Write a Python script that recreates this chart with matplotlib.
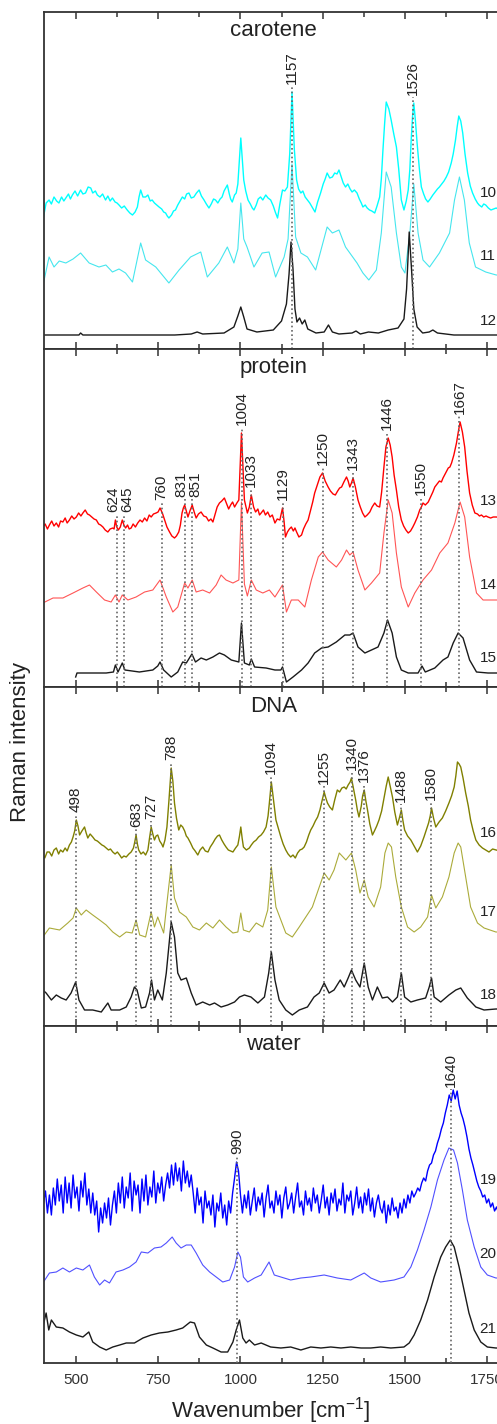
import numpy as np
import matplotlib.pyplot as plt

plt.rcParams['font.family'] = ['Liberation Sans', 'DejaVu Sans']
plt.rcParams['mathtext.fontset'] = 'custom'
plt.rcParams['mathtext.rm'] = 'Liberation Sans'

# spectra as (wavenumber, intensity) pairs, arbitrary units
# ---- carotene ----
s10 = [(400,132),(408,146),(417,149),(424,145),(432,152),(440,148),(447,146),(455,152),(462,148),(468,151),
       (476,155),(482,150),(488,154),(496,158),(504,153),(513,159),(520,155),(528,156),(536,162),(544,161),
       (550,156),(558,158),(564,154),(572,152),(580,155),(589,149),(596,153),(603,148),(610,151),(618,147),
       (624,146),(630,144),(638,141),(646,143),(655,139),(663,136),(671,134),(679,137),(686,142),(691,152),
       (696,159),(703,152),(711,152),(718,154),(725,148),(731,149),(738,146),(745,144),(752,142),(760,140),
       (766,137),(772,136),(777,133),(782,131),(790,134),(796,138),(802,139),(809,144),(816,148),(823,152),
       (830,150),(836,155),(843,156),(850,151),(858,152),(866,156),(874,159),(881,153),(889,149),(896,145),
       (904,141),(911,145),(918,150),(924,149),(931,146),(938,150),(944,152),(950,158),(955,161),(960,164),
       (966,155),(970,150),(975,147),(982,154),(987,156),(992,165),(1001,211),(1010,169),(1016,158),(1023,149),
       (1030,145),(1036,141),(1041,139),(1048,144),(1054,150),(1061,152),(1068,149),(1077,154),(1084,151),(1092,149),
       (1100,143),(1106,137),(1113,131),(1120,145),(1128,159),(1135,158),(1143,162),(1150,195),(1157,257),(1164,200),
       (1171,169),(1177,160),(1184,156),(1190,158),(1197,152),(1204,149),(1211,146),(1218,142),(1227,137),(1235,147),
       (1244,156),(1252,165),(1258,170),(1264,176),(1272,171),(1280,172),(1287,176),(1294,175),(1300,179),(1307,172),
       (1313,166),(1320,162),(1327,165),(1334,160),(1340,157),(1347,159),(1355,156),(1362,150),(1368,146),(1373,142),
       (1380,144),(1386,141),(1393,139),(1400,138),(1409,136),(1416,143),(1424,152),(1429,170),(1434,199),(1439,225),
       (1444,247),(1452,240),(1459,229),(1467,215),(1475,202),(1482,180),(1490,149),(1498,139),(1505,148),(1511,159),
       (1516,180),(1520,209),(1524,232),(1528,246),(1533,228),(1538,206),(1545,180),(1551,162),(1558,155),(1564,150),
       (1571,147),(1578,150),(1586,154),(1593,157),(1600,160),(1606,162),(1613,165),(1620,168),(1627,172),(1634,177),
       (1642,186),(1648,195),(1655,209),(1660,222),(1665,233),(1671,228),(1677,216),(1684,195),(1692,176),(1700,163),
       (1707,156),(1715,150),(1722,146),(1727,144),(1735,142),(1741,145),(1747,144),(1755,141),(1763,139),(1771,140),
       (1779,141),(1790,139),(1800,140)]
s11 = [(400,66),(417,92),(432,82),(448,88),(468,86),(490,90),(513,96),(539,86),(569,82),(590,84),
       (610,77),(630,80),(650,76),(671,67),(696,106),(711,89),(742,82),(767,72),(782,66),(813,79),
       (848,92),(879,97),(899,72),(934,86),(960,102),(980,86),(992,100),(1001,146),(1010,110),(1020,102),
       (1041,82),(1066,96),(1087,97),(1107,72),(1133,92),(1145,110),(1157,185),(1168,112),(1184,96),(1204,92),
       (1229,79),(1264,122),(1280,116),(1300,119),(1320,102),(1355,86),(1373,76),(1391,69),(1414,79),(1429,116),
       (1444,177),(1459,162),(1475,116),(1490,82),(1501,76),(1516,116),(1528,165),(1541,116),(1556,89),(1576,82),
       (1606,96),(1637,116),(1652,149),(1667,172),(1682,149),(1697,106),(1716,82),(1747,77),(1779,74),(1800,74)]
s12 = [(400,14),(460,14),(508,14),(513,16),(520,14),(600,14),(700,14),(800,14),(850,15),(868,17),
       (885,15),(950,16),(980,22),(992,33),(1001,42),(1010,32),(1020,20),(1050,17),(1100,19),(1125,28),
       (1140,45),(1148,75),(1154,107),(1160,80),(1166,40),(1172,27),(1180,31),(1188,25),(1196,29),(1205,20),
       (1230,16),(1255,17),(1268,24),(1280,17),(1300,15),(1340,16),(1352,18),(1365,15),(1390,17),(1420,16),
       (1450,19),(1480,21),(1498,30),(1506,60),(1514,117),(1521,80),(1528,40),(1538,22),(1555,16),(1575,17),
       (1586,19),(1600,16),(1650,14),(1800,14)]

# ---- protein ----
s13 = [(398,160),(405,163),(412,158),(418,162),(425,166),(432,161),(439,164),(446,160),(452,166),(459,165),
       (466,169),(472,164),(479,167),(486,171),(493,168),(500,170),(507,174),(514,171),(520,174),(527,177),
       (534,173),(540,172),(547,170),(554,168),(561,167),(568,163),(574,162),(581,160),(588,157),(596,155),
       (603,158),(611,159),(615,158),(619,167),(623,160),(628,157),(634,160),(640,167),(645,162),(650,159),
       (656,162),(661,158),(667,159),(673,163),(680,160),(687,164),(694,167),(701,165),(708,169),(715,166),
       (722,172),(728,170),(735,173),(743,174),(749,175),(755,179),(762,174),(769,167),(776,160),(784,155),
       (791,151),(799,149),(805,151),(812,155),(817,162),(822,174),(826,179),(830,182),(835,176),(840,170),
       (846,176),(853,182),(859,175),(865,169),(872,173),(880,175),(888,171),(896,170),(903,166),(910,168),
       (916,165),(922,172),(929,180),(936,184),(943,186),(951,189),(958,183),(964,178),(970,182),(976,185),
       (982,180),(989,184),(995,187),(1003,254),(1012,187),(1021,174),(1027,180),(1033,192),(1040,180),(1046,175),
       (1053,178),(1058,172),(1063,174),(1070,177),(1076,172),(1083,175),(1090,170),(1097,172),(1105,164),(1112,168),
       (1120,167),(1128,179),(1133,165),(1137,150),(1143,155),(1149,158),(1155,160),(1161,156),(1166,159),(1171,155),
       (1178,150),(1186,152),(1192,158),(1199,163),(1206,167),(1213,176),(1220,185),(1226,194),(1234,202),(1242,210),
       (1250,214),(1258,206),(1267,200),(1274,196),(1282,193),(1289,192),(1296,196),(1302,199),(1308,200),(1315,205),
       (1323,210),(1328,206),(1333,200),(1338,204),(1343,209),(1350,200),(1358,187),(1365,180),(1372,174),(1379,170),
       (1386,172),(1394,175),(1401,180),(1409,184),(1416,181),(1424,180),(1430,195),(1437,220),(1443,240),(1450,249),
       (1456,242),(1462,230),(1468,212),(1475,197),(1482,180),(1490,167),(1497,161),(1504,157),(1511,154),(1518,156),
       (1525,160),(1531,164),(1539,170),(1546,177),(1551,180),(1556,184),(1563,182),(1572,185),(1579,190),(1586,195),
       (1592,200),(1599,203),(1606,206),(1612,205),(1617,209),(1625,214),(1633,219),(1638,220),(1643,224),(1650,232),
       (1658,244),(1664,256),(1669,265),(1676,255),(1683,240),(1690,216),(1698,194),(1706,182),(1714,174),(1722,173),
       (1728,171),(1734,172),(1741,170),(1748,171),(1754,170),(1762,169),(1770,170),(1780,170),(1790,169),(1800,170)]
s14 = [(398,84),(429,89),(459,89),(490,94),(520,99),(540,102),(561,95),(586,87),(606,85),(619,92),
       (630,85),(640,92),(657,87),(682,90),(708,95),(733,97),(755,107),(774,90),(794,75),(809,80),
       (830,104),(840,99),(853,107),(865,95),(885,97),(906,94),(926,102),(941,112),(956,107),(977,104),
       (995,107),(1003,185),(1012,103),(1021,91),(1033,107),(1048,97),(1068,94),(1088,97),(1105,90),(1128,102),
       (1140,75),(1155,87),(1176,87),(1196,80),(1216,107),(1237,130),(1250,135),(1267,127),(1292,120),(1308,127),
       (1323,137),(1333,132),(1343,135),(1358,117),(1379,97),(1399,104),(1424,114),(1437,154),(1450,187),(1462,174),
       (1475,134),(1490,100),(1511,80),(1531,94),(1556,107),(1582,117),(1607,134),(1632,144),(1653,164),(1669,185),
       (1683,170),(1698,130),(1719,94),(1739,87),(1780,87),(1800,87)]
s15 = [(498,10),(502,14),(540,14),(591,14),(613,15),(619,22),(627,15),(640,24),(648,17),(692,15),
       (733,17),(748,21),(755,25),(766,17),(789,10),(809,15),(824,25),(835,24),(852,33),(863,25),
       (880,29),(896,27),(916,30),(936,34),(951,32),(972,27),(995,25),(1003,64),(1012,24),(1027,22),
       (1033,28),(1043,20),(1078,19),(1105,17),(1123,17),(1128,20),(1140,5),(1160,10),(1186,17),(1206,24),
       (1226,34),(1247,39),(1267,40),(1292,45),(1318,52),(1333,52),(1343,54),(1358,40),(1379,34),(1399,37),
       (1419,40),(1437,54),(1448,67),(1462,54),(1475,30),(1490,17),(1511,14),(1541,14),(1553,21),(1563,15),
       (1592,19),(1617,27),(1632,30),(1648,44),(1663,54),(1678,49),(1698,27),(1719,15),(1754,14),(1800,14)]

# ---- DNA ----
s16 = [(398,171),(404,168),(411,174),(418,174),(425,170),(432,176),(439,178),(446,172),(452,176),(459,174),
       (466,178),(472,175),(479,181),(485,184),(490,189),(495,195),(500,206),(505,200),(510,191),(517,195),
       (525,199),(530,193),(535,188),(542,192),(550,189),(557,186),(564,185),(571,183),(578,181),(584,180),
       (591,178),(598,176),(604,177),(611,174),(618,172),(625,174),(632,171),(638,168),(645,170),(652,169),
       (660,172),(667,174),(674,178),(678,184),(682,191),(686,182),(690,176),(697,172),(704,174),(711,171),
       (718,176),(723,188),(728,199),(733,192),(738,186),(743,190),(748,191),(754,185),(760,182),(764,179),
       (770,186),(776,199),(782,225),(789,258),(794,245),(799,223),(805,208),(812,196),(818,201),(824,199),
       (830,195),(835,190),(840,188),(848,183),(855,178),(862,175),(870,171),(877,176),(885,179),(893,175),
       (901,174),(908,179),(916,183),(923,187),(930,190),(936,191),(943,186),(950,182),(956,179),(963,176),
       (970,175),(977,174),(985,178),(992,181),(997,190),(1001,199),(1005,188),(1009,179),(1018,176),(1027,178),
       (1033,181),(1040,184),(1048,186),(1055,189),(1063,191),(1070,194),(1078,199),(1084,210),(1088,223),(1094,244),
       (1101,225),(1108,206),(1115,198),(1123,189),(1130,182),(1138,176),(1145,172),(1153,169),(1160,171),(1167,168),
       (1174,173),(1181,176),(1188,177),(1194,179),(1201,184),(1208,191),(1214,196),(1221,200),(1228,205),(1235,209),
       (1242,216),(1249,226),(1255,234),(1260,228),(1265,223),(1272,219),(1280,216),(1287,226),(1295,236),(1302,234),
       (1309,238),(1316,239),(1322,237),(1328,241),(1334,244),(1338,248),(1344,238),(1351,226),(1356,216),(1361,209),
       (1368,220),(1372,230),(1377,236),(1382,225),(1387,216),(1394,202),(1402,191),(1408,195),(1415,200),(1422,206),
       (1430,215),(1438,229),(1444,240),(1450,249),(1456,240),(1463,229),(1470,214),(1478,201),(1484,208),(1490,216),
       (1495,205),(1500,196),(1509,190),(1519,186),(1529,180),(1539,174),(1549,180),(1559,189),(1566,196),(1573,203),
       (1578,210),(1582,218),(1588,208),(1595,199),(1605,204),(1615,208),(1625,215),(1635,223),(1643,230),(1651,239),
       (1656,250),(1661,264),(1666,262),(1671,259),(1678,248),(1686,233),(1694,220),(1701,206),(1709,195),(1717,186),
       (1727,181),(1737,178),(1747,176),(1757,174),(1768,177),(1778,176),(1790,175),(1800,176)]
s17 = [(398,89),(418,98),(449,96),(474,103),(490,108),(500,118),(515,111),(530,116),(550,111),(571,106),
       (591,101),(611,94),(632,89),(652,94),(670,93),(682,106),(693,91),(711,89),(728,114),(738,99),
       (748,109),(766,93),(777,126),(789,161),(799,128),(814,114),(835,109),(855,99),(875,96),(896,103),
       (916,98),(936,106),(956,99),(977,93),(992,94),(1001,113),(1009,96),(1027,94),(1048,103),(1068,99),
       (1083,116),(1094,159),(1108,119),(1123,106),(1138,93),(1158,89),(1179,99),(1199,109),(1219,119),(1240,139),
       (1255,153),(1270,146),(1285,156),(1301,173),(1321,166),(1338,173),(1351,156),(1364,133),(1377,146),(1389,129),
       (1407,119),(1427,139),(1440,173),(1450,183),(1460,179),(1473,149),(1490,119),(1509,99),(1529,94),(1549,99),
       (1570,109),(1582,131),(1595,118),(1615,129),(1635,149),(1651,173),(1663,183),(1671,179),(1686,149),(1701,119),
       (1722,103),(1742,98),(1778,94),(1800,94)]
s18 = [(398,36),(408,33),(424,26),(439,31),(454,28),(469,26),(484,33),(498,44),(508,26),(525,16),
       (550,16),(576,14),(596,23),(606,16),(632,16),(652,19),(667,29),(677,39),(685,36),(698,18),
       (711,19),(723,33),(729,46),(738,26),(748,36),(762,26),(774,53),(789,104),(799,89),(809,53),
       (819,46),(835,48),(850,33),(865,21),(885,24),(906,21),(921,23),(941,19),(961,21),(982,24),
       (997,29),(1012,31),(1032,29),(1053,23),(1073,29),(1086,53),(1094,74),(1105,46),(1118,26),(1138,16),
       (1158,11),(1179,16),(1204,19),(1224,29),(1240,33),(1255,43),(1270,33),(1285,36),(1304,46),(1316,39),
       (1328,48),(1338,56),(1351,46),(1364,39),(1377,63),(1389,39),(1402,26),(1417,39),(1432,28),(1448,29),
       (1463,24),(1478,29),(1490,53),(1500,29),(1519,24),(1539,26),(1564,28),(1575,39),(1582,48),(1590,29),
       (1610,24),(1635,31),(1656,36),(1671,38),(1691,28),(1717,19),(1742,16),(1778,17),(1800,17)]

# ---- water ----
wn_19 = np.arange(400, 1800, 6)
int_19 = [160, 172, 150, 168, 148, 175,
          158, 184, 162, 178, 150, 186, 160, 180, 155, 188, 165, 176, 152, 182, 166, 190, 158, 174, 150, 170,
          148, 162, 131, 155, 140, 160, 145, 165, 138, 158,
          172, 150, 180, 160, 186, 155, 176, 165, 190, 152, 182, 168, 178, 150, 184, 162, 188, 158, 176, 166,
          192, 160, 180, 170, 186, 162, 178,
          190, 175, 198, 178, 200, 182, 195, 172, 202, 180, 192, 176, 188,
          170, 150, 175, 158, 166, 140, 172, 155, 162, 148, 168, 136, 160, 152, 170, 145, 158, 138, 162, 150,
          170, 185, 201, 192, 168,
          150, 168, 155, 172, 148, 162, 175, 152, 166, 158, 170, 146, 165, 178, 155, 162, 150, 172, 158, 168,
          145, 165, 176, 154, 160, 170, 150, 166, 180, 156, 162, 148, 172, 158, 165, 152, 175, 160, 168, 150,
          163, 178, 155, 166, 148, 170, 160, 174, 152, 164, 158, 180, 150, 168, 162, 172, 148, 160, 176, 155,
          166, 150, 170, 158, 174, 152, 165, 146, 160, 168, 155, 150, 162, 140, 158, 148, 165, 152, 156, 145,
          160, 150, 164, 155, 168, 160, 172, 166,
          170, 175, 172, 180, 185, 182, 192, 198, 200, 208, 212, 220, 226, 234, 240, 250, 258, 268, 262, 273,
          264, 272, 258, 250, 244, 236, 226, 214, 205, 198, 190, 182, 176, 172, 166, 168, 160, 164, 156, 160,
          152, 156, 150, 154, 152]
s20 = [(398,80),(418,90),(439,91),(459,95),(479,91),(500,95),(520,93),(540,98),(555,86),(571,78),
       (586,83),(601,80),(621,91),(642,93),(662,96),(682,101),(698,111),(718,110),(738,115),(758,116),
       (774,120),(792,126),(804,120),(819,115),(835,118),(850,118),(865,110),(885,98),(906,91),(926,86),
       (946,81),(967,83),(982,96),(992,111),(1000,106),(1009,86),(1022,81),(1043,85),(1063,88),(1087,101),
       (1103,88),(1123,86),(1153,83),(1184,85),(1214,86),(1255,88),(1295,85),(1336,83),(1377,90),(1397,85),
       (1427,81),(1468,83),(1498,86),(1519,96),(1539,113),(1559,133),(1580,156),(1600,183),(1620,203),(1635,215),
       (1649,213),(1661,200),(1676,173),(1691,143),(1712,116),(1732,96),(1752,88),(1778,85),(1800,85)]
s21 = [(398,36),(408,50),(416,33),(424,43),(439,36),(459,35),(479,31),(500,28),(520,26),(538,31),
       (550,21),(571,16),(591,13),(611,16),(632,18),(652,20),(677,20),(703,25),(728,28),(753,30),
       (779,31),(804,33),(824,35),(847,41),(860,40),(875,26),(896,18),(916,15),(941,11),(961,11),
       (977,21),(987,33),(997,43),(1007,25),(1017,20),(1027,23),(1043,18),(1063,20),(1092,16),(1123,15),
       (1153,16),(1184,13),(1214,16),(1245,15),(1275,16),(1306,15),(1336,16),(1367,15),(1397,15),(1427,16),
       (1458,15),(1498,16),(1514,20),(1529,28),(1549,43),(1570,63),(1590,86),(1610,106),(1625,116),(1639,123),
       (1651,116),(1666,96),(1681,73),(1696,50),(1712,33),(1732,21),(1752,16),(1778,15),(1800,15)]

# marked band positions
peaks_carotene = [1157, 1526]
peaks_protein = [624, 645, 760, 831, 851, 1004, 1033, 1129, 1250, 1343, 1446, 1550, 1667]
peaks_dna = [498, 683, 727, 788, 1094, 1255, 1340, 1376, 1488, 1580]
peaks_water = [990, 1640]


def xy(pairs):
    a = np.array(pairs, dtype=float)
    return a[:, 0], a[:, 1]


fig = plt.figure(figsize=(4.97, 14.24), dpi=100)
left = 43.5 / 497
width = 459.6 / 497
H = 1424.0
# (top px, bottom px) of each panel
rows = [(12, 349), (349, 687), (687, 1026), (1026, 1363)]

panels = [
    ('carotene', [(xy(s10), '#00ffff', 1.0, '10'), (xy(s11), '#45e6ee', 0.8, '11'), (xy(s12), '#1a1a1a', 1.0, '12')],
     peaks_carotene),
    ('protein', [(xy(s13), '#ff0000', 1.0, '13'), (xy(s14), '#ff5555', 0.8, '14'), (xy(s15), '#1a1a1a', 1.0, '15')],
     peaks_protein),
    ('DNA', [(xy(s16), '#808000', 1.0, '16'), (xy(s17), '#abab3a', 0.8, '17'), (xy(s18), '#1a1a1a', 1.0, '18')],
     peaks_dna),
    ('water', [((wn_19, np.array(int_19, float)), '#0000ff', 1.0, '19'), (xy(s20), '#5050ff', 0.8, '20'),
               (xy(s21), '#1a1a1a', 1.0, '21')],
     peaks_water),
]

for i, ((top, bot), (title, spectra, peaks)) in enumerate(zip(rows, panels)):
    ax = fig.add_axes([left, (H - bot) / H, width, (bot - top) / H])
    ax.set_xlim(400, 1800)
    ax.set_ylim(0, bot - top)
    ax.set_yticks([])
    ax.set_xticks([500, 750, 1000, 1250, 1500, 1750])
    ax.set_xticks([625, 875, 1125, 1375, 1625], minor=True)
    ax.tick_params(axis='x', which='both', direction='in', top=True, bottom=True,
                   colors='#333333', labelsize=11, pad=7)
    ax.tick_params(axis='x', which='major', length=5, width=1.1)
    ax.tick_params(axis='x', which='minor', length=3.5, width=1.1)
    if i < 3:
        ax.tick_params(axis='x', labelbottom=False)
    for sp in ax.spines.values():
        sp.set_color('#333333')
        sp.set_linewidth(1.3)

    for (x, y), col, lw, sid in spectra:
        ax.plot(x, y, color=col, lw=lw, zorder=2)
        ax.text(1728, np.interp(1735, x, y) + 14, sid, fontsize=11, color='#222222',
                ha='left', va='center')

    # band labels sit above the top spectrum; very close pairs are pushed apart
    xt, yt = spectra[0][0]
    lab_x = [float(p) for p in peaks]
    for k in range(len(peaks) - 1):
        d = peaks[k + 1] - peaks[k]
        if d < 25:
            lab_x[k] -= (44 - d) / 2
            lab_x[k + 1] += (44 - d) / 2
    for p, lx in zip(peaks, lab_x):
        near = yt[(xt >= p - 7) & (xt <= p + 7)]
        ytop = max(np.interp(p, xt, yt), near.max() if near.size else 0) + 8
        ax.plot([p, p], [0, ytop - 2], color='#666666', lw=1.2, ls=(0, (1, 1.6)), zorder=3)
        ax.text(lx, ytop, str(p), rotation=90, ha='center', va='bottom', fontsize=11, color='#222222')

    ax.text(0.5, 1 - 19 / (bot - top), title, transform=ax.transAxes, ha='center', va='center',
            fontsize=16, color='#222222')

fig.text(21 / 497, 1 - 742 / H, 'Raman intensity', rotation=90, ha='center', va='center',
         fontsize=16, color='#222222')
fig.text(271 / 497, 1 - 1411 / H, r'Wavenumber [cm$^{\mathregular{-1}}$]', ha='center', va='center',
         fontsize=16, color='#222222')

fig.savefig('out.png', dpi=100)
